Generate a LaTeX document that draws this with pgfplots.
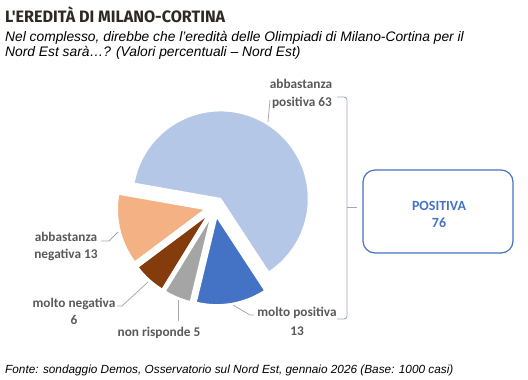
\documentclass[border=0pt]{standalone}
\usepackage{pgfplots}
\pgfplotsset{compat=1.18}
\usepackage{fontspec}
\setmainfont{Liberation Sans}
\newfontfamily\calibri{Carlito}
\newfontfamily\titlefont{Fira Sans}
\definecolor{cA}{HTML}{B4C7E7}
\definecolor{cB}{HTML}{4472C4}
\definecolor{cC}{HTML}{A5A5A5}
\definecolor{cD}{HTML}{843C0C}
\definecolor{cE}{HTML}{F4B183}
\definecolor{labc}{HTML}{595959}
\definecolor{leadc}{HTML}{A6A6A6}
\definecolor{brc}{HTML}{9DAABF}
\definecolor{boxc}{HTML}{4472C4}
\definecolor{titc}{HTML}{2E2820}
% values (percent)
\def\vA{63}\def\vB{13}\def\vC{5}\def\vD{6}\def\vE{13}
\def\cX{215}\def\cY{207}\def\R{88}\def\D{10}
\pgfmathsetmacro\sA{170}
\pgfmathsetmacro\eA{\sA-3.6*\vA}
\pgfmathsetmacro\eB{\eA-3.6*\vB}
\pgfmathsetmacro\eC{\eB-3.6*\vC}
\pgfmathsetmacro\eD{\eC-3.6*\vD}
\pgfmathsetmacro\eE{\eD-3.6*\vE}
\pgfmathsetmacro\xA{\cX+\D*cos((\sA+\eA)/2)}\pgfmathsetmacro\yA{\cY-\D*sin((\sA+\eA)/2)}
\pgfmathsetmacro\xB{\cX+\D*cos((\eA+\eB)/2)}\pgfmathsetmacro\yB{\cY-\D*sin((\eA+\eB)/2)}
\pgfmathsetmacro\xC{\cX+\D*cos((\eB+\eC)/2)}\pgfmathsetmacro\yC{\cY-\D*sin((\eB+\eC)/2)}
\pgfmathsetmacro\xD{\cX+\D*cos((\eC+\eD)/2)}\pgfmathsetmacro\yD{\cY-\D*sin((\eC+\eD)/2)}
\pgfmathsetmacro\xE{\cX+\D*cos((\eD+\eE)/2)}\pgfmathsetmacro\yE{\cY-\D*sin((\eD+\eE)/2)}
\begin{document}
\begin{tikzpicture}
\begin{axis}[scale only axis, width=528bp, height=380bp,
  xmin=0, xmax=528, ymin=0, ymax=380, y dir=reverse,
  hide axis, clip=false]
\path (axis cs:0,0) rectangle (axis cs:528,380);
% pie slices
\addplot[fill=cA, draw=white, line width=1.5bp, domain=\eA:\sA, samples=90, variable=\t]
  ({\xA+\R*cos(\t)},{\yA-\R*sin(\t)}) -- (axis cs:\xA,\yA) -- cycle;
\addplot[fill=cB, draw=white, line width=1.5bp, domain=\eB:\eA, samples=30, variable=\t]
  ({\xB+\R*cos(\t)},{\yB-\R*sin(\t)}) -- (axis cs:\xB,\yB) -- cycle;
\addplot[fill=cC, draw=white, line width=1.5bp, domain=\eC:\eB, samples=15, variable=\t]
  ({\xC+\R*cos(\t)},{\yC-\R*sin(\t)}) -- (axis cs:\xC,\yC) -- cycle;
\addplot[fill=cD, draw=white, line width=1.5bp, domain=\eD:\eC, samples=15, variable=\t]
  ({\xD+\R*cos(\t)},{\yD-\R*sin(\t)}) -- (axis cs:\xD,\yD) -- cycle;
\addplot[fill=cE, draw=white, line width=1.5bp, domain=\eE:\eD, samples=30, variable=\t]
  ({\xE+\R*cos(\t)},{\yE-\R*sin(\t)}) -- (axis cs:\xE,\yE) -- cycle;
% leader lines
\draw[leadc, line width=0.75bp] (axis cs:268,122) -- (axis cs:270,100);
\draw[leadc, line width=0.75bp] (axis cs:233,305) -- (axis cs:250,315) -- (axis cs:254,315);
\draw[leadc, line width=0.75bp] (axis cs:178,300) -- (axis cs:178,321);
\draw[leadc, line width=0.75bp] (axis cs:148,282) -- (axis cs:122,306) -- (axis cs:117,306);
\draw[leadc, line width=0.75bp] (axis cs:118,232) -- (axis cs:109,241) -- (axis cs:101,241);
% labels
\begin{scope}[every node/.style={anchor=base, text=labc, inner sep=0pt, font=\calibri\bfseries\fontsize{13.3bp}{16bp}\selectfont}]
\node at (axis cs:301,88) {abbastanza};
\node at (axis cs:302,106) {positiva 63};
\node at (axis cs:297,316) {molto positiva};
\node at (axis cs:297,335) {13};
\node at (axis cs:159,336) {non risponde 5};
\node at (axis cs:74,307) {molto negativa};
\node at (axis cs:74,324) {6};
\node at (axis cs:66,241) {abbastanza};
\node at (axis cs:66,258) {negativa 13};
\end{scope}
% bracket
\draw[brc, line width=0.9bp, rounded corners=3bp] (axis cs:337,97) -- (axis cs:347,97) -- (axis cs:347,319) -- (axis cs:337,319);
\draw[brc, line width=0.9bp] (axis cs:347,207) -- (axis cs:357,207);
% box
\draw[boxc, line width=1.2bp, rounded corners=12bp] (axis cs:363,170) rectangle (axis cs:513,253);
\node[anchor=base, inner sep=0pt, text=boxc, font=\calibri\bfseries\fontsize{14bp}{17bp}\selectfont] at (axis cs:439,210) {POSITIVA};
\node[anchor=base, inner sep=0pt, text=boxc, font=\calibri\bfseries\fontsize{14bp}{17bp}\selectfont] at (axis cs:439,227) {76};
% title, subtitle, footer
\node[anchor=base west, inner sep=0pt, text=titc] at (axis cs:5,22)
  {\resizebox{220bp}{\height}{\titlefont\bfseries\fontsize{16.5bp}{19bp}\selectfont L'EREDITÀ DI MILANO-CORTINA}};
\node[anchor=base west, inner sep=0pt, font=\itshape\fontsize{13.8bp}{16bp}\selectfont] at (axis cs:5,41.5)
  {Nel complesso, direbbe che l'eredità delle Olimpiadi di Milano-Cortina per il};
\node[anchor=base west, inner sep=0pt, font=\itshape\fontsize{13.8bp}{16bp}\selectfont] at (axis cs:5,56.5)
  {Nord Est sarà…? (Valori percentuali – Nord Est)};
\node[anchor=base west, inner sep=0pt, font=\itshape\fontsize{11.8bp}{14bp}\selectfont] at (axis cs:5,373)
  {Fonte: sondaggio Demos, Osservatorio sul Nord Est, gennaio 2026 (Base: 1000 casi)};
\end{axis}
\end{tikzpicture}
\end{document}
